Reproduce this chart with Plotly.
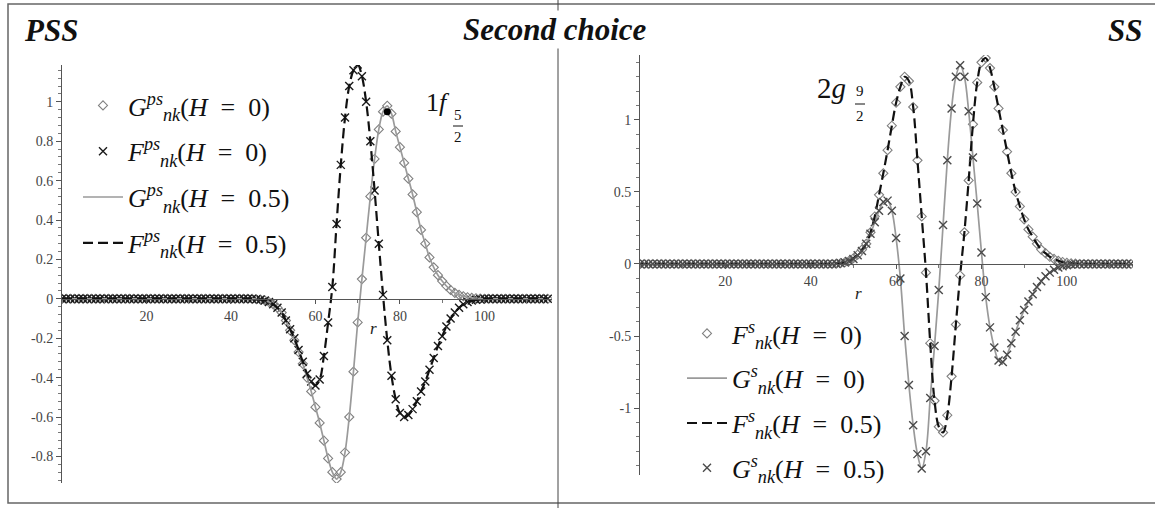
import plotly.graph_objects as go

# ---------------- data ----------------
r = list(range(0, 116))

# PSS panel, 1f5/2
G_ps_H0 = [0.0] * 45 + [
    0.0, -0.002, -0.004, -0.008, -0.016, -0.028, -0.045, -0.07, -0.11, -0.16,
    -0.21, -0.27, -0.33, -0.40, -0.47, -0.55, -0.63, -0.72, -0.81, -0.88,
    -0.915, -0.88, -0.78, -0.60, -0.37, -0.12, 0.10, 0.31, 0.52, 0.71,
    0.86, 0.95, 0.98, 0.94, 0.85, 0.77, 0.69, 0.61, 0.53, 0.44,
    0.35, 0.28, 0.21, 0.16, 0.12, 0.09, 0.065, 0.045, 0.03, 0.02,
    0.013, 0.008, 0.005, 0.003, 0.001, 0.0] + [0.0] * 15
F_ps_H0 = [0.0] * 45 + [
    0.0, -0.002, -0.004, -0.008, -0.016, -0.028, -0.045, -0.07, -0.11, -0.155,
    -0.20, -0.26, -0.32, -0.38, -0.42, -0.44, -0.41, -0.29, -0.12, 0.06,
    0.38, 0.68, 0.92, 1.08, 1.16, 1.19, 1.13, 1.00, 0.80, 0.55,
    0.28, 0.02, -0.21, -0.39, -0.51, -0.58, -0.60, -0.59, -0.56, -0.52,
    -0.47, -0.42, -0.36, -0.30, -0.24, -0.19, -0.14, -0.10, -0.07, -0.045,
    -0.028, -0.016, -0.009, -0.005, -0.002, 0.0] + [0.0] * 15
G_ps_H05 = list(G_ps_H0)
F_ps_H05 = list(F_ps_H0)
dot_ps_r = [77]
dot_ps_v = [0.95]

# SS panel, 2g9/2
F_s_H0 = [0.0] * 45 + [
    0.0, 0.003, 0.006, 0.012, 0.022, 0.04, 0.065, 0.10, 0.14, 0.22,
    0.33, 0.48, 0.63, 0.79, 0.96, 1.12, 1.23, 1.30, 1.27, 1.09,
    0.72, 0.33, -0.06, -0.55, -0.95, -1.13, -1.17, -1.05, -0.78, -0.42,
    -0.08, 0.22, 0.58, 0.97, 1.26, 1.40, 1.43, 1.36, 1.23, 1.08,
    0.93, 0.78, 0.63, 0.50, 0.40, 0.31, 0.24, 0.19, 0.14, 0.10,
    0.075, 0.05, 0.035, 0.022, 0.014, 0.008, 0.004, 0.002, 0.0] + [0.0] * 12
G_s_H0 = [0.0] * 45 + [
    0.0, 0.002, 0.005, 0.01, 0.02, 0.035, 0.06, 0.09, 0.14, 0.21,
    0.29, 0.37, 0.43, 0.44, 0.37, 0.18, -0.10, -0.50, -0.84, -1.12,
    -1.32, -1.42, -1.30, -0.93, -0.57, -0.18, 0.27, 0.72, 1.08, 1.30,
    1.38, 1.30, 1.06, 0.74, 0.42, 0.08, -0.23, -0.44, -0.58, -0.67,
    -0.68, -0.63, -0.55, -0.47, -0.39, -0.32, -0.26, -0.21, -0.16, -0.12,
    -0.085, -0.06, -0.04, -0.025, -0.015, -0.008, -0.004, -0.002, 0.0] + [0.0] * 12
F_s_H05 = list(F_s_H0)
G_s_H05 = list(G_s_H0)

# tick labels
x_tickvals = [20, 40, 60, 80, 100]
x_ticktext = ["20", "40", "60", "80", "100"]
y_ps_tickvals = [1, 0.8, 0.6, 0.4, 0.2, 0, -0.2, -0.4, -0.6, -0.8]
y_ps_ticktext = ["1", "0.8", "0.6", "0.4", "0.2", "0", "-0.2", "-0.4", "-0.6", "-0.8"]
y_s_tickvals = [1, 0.5, 0, -0.5, -1]
y_s_ticktext = ["1", "0.5", "0", "-0.5", "-1"]

# ---------------- layout helpers ----------------
W, H = 1155, 508
def px(x):
    return x / W
def py(y):
    return 1 - y / H

SERIF = "Liberation Serif"
SP = "\u2002"

fig = go.Figure()

def name(letter, sup, val):
    return (f"<i>{letter}</i><sup><i>{sup}</i></sup><sub><i>nk</i></sub>"
            f"(<i>H</i>{SP}={SP}0{val})")

# left panel traces
fig.add_trace(go.Scatter(x=r, y=G_ps_H0, mode="markers", name=name("G", "ps", ""),
                         marker=dict(symbol="diamond-open", size=7, color="#808080", line=dict(width=1.1)),
                         xaxis="x", yaxis="y", legend="legend", legendgroup="a1"))
fig.add_trace(go.Scatter(x=r, y=F_ps_H0, mode="markers", name=name("F", "ps", ""),
                         marker=dict(symbol="x-thin-open", size=8, color="#1a1a1a", line=dict(width=1.4)),
                         xaxis="x", yaxis="y", legend="legend", legendgroup="a2"))
fig.add_trace(go.Scatter(x=r, y=G_ps_H05, mode="lines", name=name("G", "ps", ".5"),
                         line=dict(color="#9a9a9a", width=1.7, shape="spline"),
                         xaxis="x", yaxis="y", legend="legend", legendgroup="a3"))
fig.add_trace(go.Scatter(x=r, y=F_ps_H05, mode="lines", name=name("F", "ps", ".5"),
                         line=dict(color="#111", width=2.2, dash="10px,5px", shape="spline"),
                         xaxis="x", yaxis="y", legend="legend", legendgroup="a4"))
fig.add_trace(go.Scatter(x=dot_ps_r, y=dot_ps_v, mode="markers", showlegend=False,
                         marker=dict(symbol="circle", size=7, color="#000"),
                         xaxis="x", yaxis="y"))

# right panel traces
fig.add_trace(go.Scatter(x=r, y=F_s_H0, mode="markers", name=name("F", "s", ""),
                         marker=dict(symbol="diamond-open", size=7, color="#808080", line=dict(width=1.1)),
                         xaxis="x2", yaxis="y2", legend="legend2", legendgroup="b1"))
fig.add_trace(go.Scatter(x=r, y=G_s_H0, mode="lines", name=name("G", "s", ""),
                         line=dict(color="#9a9a9a", width=1.7, shape="spline"),
                         xaxis="x2", yaxis="y2", legend="legend2", legendgroup="b2"))
fig.add_trace(go.Scatter(x=r, y=F_s_H05, mode="lines", name=name("F", "s", ".5"),
                         line=dict(color="#111", width=2.2, dash="10px,5px", shape="spline"),
                         xaxis="x2", yaxis="y2", legend="legend2", legendgroup="b3"))
fig.add_trace(go.Scatter(x=r, y=G_s_H05, mode="markers", name=name("G", "s", ".5"),
                         marker=dict(symbol="x-thin-open", size=8, color="#4a4a4a", line=dict(width=1.4)),
                         xaxis="x2", yaxis="y2", legend="legend2", legendgroup="b4"))

tickfont = dict(family=SERIF, size=14, color="#444")

def xax(dom, rng, pos):
    return dict(domain=dom, range=rng, anchor="free", position=pos,
                showline=True, linecolor="#555", linewidth=1,
                ticks="outside", ticklen=4, tickcolor="#555",
                tickvals=x_tickvals, ticktext=x_ticktext, tickfont=tickfont,
                minor=dict(dtick=10, ticklen=3, ticks="outside", tickcolor="#777"),
                showgrid=False, zeroline=False, fixedrange=True)

def yax(dom, rng, anchor, tv, tt, mdt):
    return dict(domain=dom, range=rng, anchor=anchor,
                showline=True, linecolor="#555", linewidth=1,
                ticks="outside", ticklen=5, tickcolor="#555",
                tickvals=tv, ticktext=tt, tickfont=tickfont,
                minor=dict(dtick=mdt, tick0=0, ticklen=3, ticks="outside", tickcolor="#777"),
                showgrid=False, zeroline=False, fixedrange=True)

legfont = dict(family=SERIF, size=26, color="#111")
fig.update_layout(
    width=W, height=H, margin=dict(l=0, r=0, t=0, b=0),
    paper_bgcolor="white", plot_bgcolor="rgba(0,0,0,0)",
    xaxis=xax([px(62), px(552)], [0, 116], py(299)),
    yaxis=yax([py(483), py(65)], [-0.935, 1.187], "x", y_ps_tickvals, y_ps_ticktext, 0.04),
    xaxis2=xax([px(640), px(1133)], [0, 115.5], py(264)),
    yaxis2=yax([py(475), py(55)], [-1.465, 1.451], "x2", y_s_tickvals, y_s_ticktext, 0.1),
    legend=dict(x=px(78), y=py(82), xanchor="left", yanchor="top",
                bgcolor="rgba(0,0,0,0)", tracegroupgap=9, itemwidth=40, font=legfont),
    legend2=dict(x=px(682), y=py(310), xanchor="left", yanchor="top",
                 bgcolor="rgba(0,0,0,0)", tracegroupgap=8, itemwidth=40, font=legfont),
    showlegend=True,
    hovermode=False,
)

# frame and divider
fig.add_shape(type="rect", xref="paper", yref="paper", x0=px(8), x1=px(1162), y0=py(503), y1=py(4),
              line=dict(color="#666", width=1.5))
fig.add_shape(type="line", xref="paper", yref="paper", x0=px(558), x1=px(558), y0=py(508), y1=py(0),
              line=dict(color="#444", width=1))

# titles
titlefont = dict(family=SERIF, size=31, color="#111")
fig.add_annotation(x=px(22), y=py(30), xref="paper", yref="paper", xanchor="left", yanchor="middle",
                   text="<b><i>PSS</i></b>", showarrow=False, font=titlefont)
fig.add_annotation(x=px(555), y=py(29), xref="paper", yref="paper", xanchor="center", yanchor="middle",
                   text="<b><i>Second choice</i></b>", showarrow=False, bgcolor="white", font=titlefont)
fig.add_annotation(x=px(1144), y=py(30), xref="paper", yref="paper", xanchor="right", yanchor="middle",
                   text="<b><i>SS</i></b>", showarrow=False, font=titlefont)

# state labels
fig.add_annotation(x=px(438), y=py(103), xref="paper", yref="paper", xanchor="center", yanchor="middle",
                   text="1<i>f</i>", showarrow=False, font=dict(family=SERIF, size=26, color="#111"))
fig.add_annotation(x=px(458), y=py(115), xref="paper", yref="paper", xanchor="center", yanchor="middle",
                   text="5", showarrow=False, font=dict(family=SERIF, size=15, color="#111"))
fig.add_annotation(x=px(458), y=py(137), xref="paper", yref="paper", xanchor="center", yanchor="middle",
                   text="2", showarrow=False, font=dict(family=SERIF, size=15, color="#111"))
fig.add_shape(type="line", xref="paper", yref="paper", x0=px(453), x1=px(463), y0=py(126), y1=py(126),
              line=dict(color="#111", width=1))

fig.add_annotation(x=px(831), y=py(88), xref="paper", yref="paper", xanchor="center", yanchor="middle",
                   text="2<i>g</i>", showarrow=False, font=dict(family=SERIF, size=29, color="#111"))
fig.add_annotation(x=px(860), y=py(91), xref="paper", yref="paper", xanchor="center", yanchor="middle",
                   text="9", showarrow=False, font=dict(family=SERIF, size=15, color="#111"))
fig.add_annotation(x=px(860), y=py(116), xref="paper", yref="paper", xanchor="center", yanchor="middle",
                   text="2", showarrow=False, font=dict(family=SERIF, size=15, color="#111"))
fig.add_shape(type="line", xref="paper", yref="paper", x0=px(855), x1=px(865), y0=py(104), y1=py(104),
              line=dict(color="#111", width=1))

# axis variable labels
fig.add_annotation(x=px(368), y=py(328), xref="paper", yref="paper", showarrow=False,
                   text="<i>r</i>", font=dict(family=SERIF, size=17, color="#222"))
fig.add_annotation(x=px(864), y=py(293), xref="paper", yref="paper", showarrow=False,
                   text="<i>r</i>", font=dict(family=SERIF, size=17, color="#222"))

fig.write_html("out.html", config={"displayModeBar": False, "staticPlot": True},
               post_script="document.body.style.margin='0';")
